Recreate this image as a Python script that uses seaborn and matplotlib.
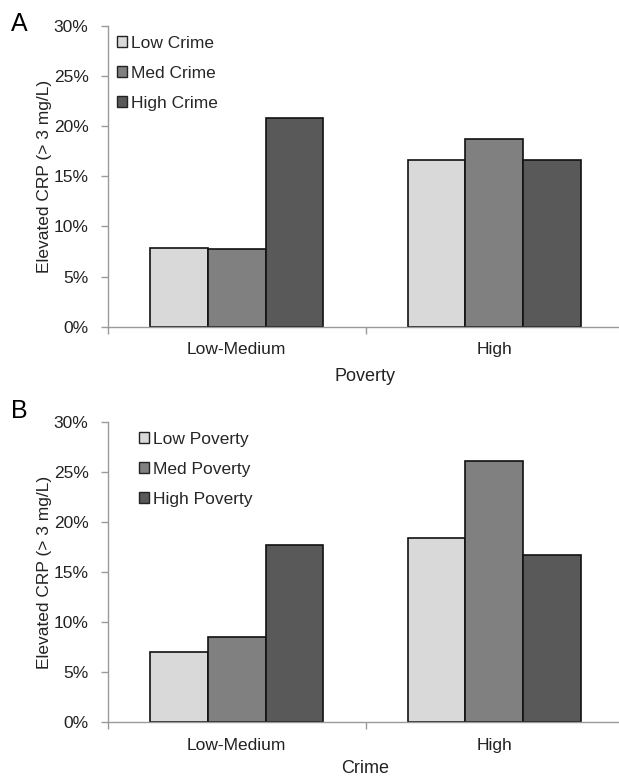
import matplotlib
matplotlib.use("Agg")
import matplotlib.pyplot as plt
import seaborn as sns
import pandas as pd
from matplotlib.ticker import PercentFormatter, FixedLocator

categories = ["Low-Medium", "High"]

crime_levels = ["Low Crime", "Med Crime", "High Crime"]
crp_by_poverty = {
    "Low Crime": [7.9, 16.6],
    "Med Crime": [7.75, 18.7],
    "High Crime": [20.8, 16.6],
}

poverty_levels = ["Low Poverty", "Med Poverty", "High Poverty"]
crp_by_crime = {
    "Low Poverty": [7.05, 18.35],
    "Med Poverty": [8.5, 26.1],
    "High Poverty": [17.7, 16.7],
}

yticks = [0, 5, 10, 15, 20, 25, 30]
colors = ["#d9d9d9", "#808080", "#595959"]

sns.set_theme(style="white")
plt.rcParams["font.family"] = ["Liberation Sans", "DejaVu Sans"]

fig = plt.figure(figsize=(6.19, 7.80), dpi=100)

def make_df(d, levels):
    rows = []
    for lvl in levels:
        for c, v in zip(categories, d[lvl]):
            rows.append({"cat": c, "grp": lvl, "val": v})
    return pd.DataFrame(rows)

def panel(rect, df, levels, xlabel, xlabelpad, letter, letter_y, leg_anchor):
    ax = fig.add_axes(rect)
    sns.barplot(data=df, x="cat", y="val", hue="grp", order=categories,
                hue_order=levels, palette=colors, width=0.67, gap=0,
                edgecolor="#111111", linewidth=1.2, ax=ax, saturation=1)
    ax.set_xlim(-0.5, 1.5)
    ax.set_ylim(0, 30)
    ax.yaxis.set_major_locator(FixedLocator(yticks))
    ax.yaxis.set_major_formatter(PercentFormatter(decimals=0))
    for s in ["top", "right"]:
        ax.spines[s].set_visible(False)
    for s in ["left", "bottom"]:
        ax.spines[s].set_color("#9a9a9a")
        ax.spines[s].set_linewidth(1.0)
    ax.tick_params(axis="y", left=True, length=5, width=1, color="#9a9a9a",
                   pad=9, labelsize=12.5, labelcolor="#222222")
    ax.tick_params(axis="x", which="major", bottom=True, length=0, pad=11,
                   labelsize=12.5, labelcolor="#222222")
    ax.set_xticks([-0.5, 0.5, 1.5], minor=True)
    ax.tick_params(axis="x", which="minor", bottom=True, length=5, width=1,
                   color="#9a9a9a")
    ax.set_xlabel(xlabel, fontsize=13, color="#222222", labelpad=xlabelpad)
    ax.set_ylabel("Elevated CRP (> 3 mg/L)", fontsize=12.5, color="#222222",
                  labelpad=1)
    leg = ax.legend(loc="upper left", bbox_to_anchor=leg_anchor,
                    bbox_transform=fig.transFigure, frameon=False,
                    fontsize=12.5, handlelength=0.6, handleheight=0.6,
                    handletextpad=0.2, labelspacing=0.85, borderpad=0,
                    borderaxespad=0)
    for h in leg.legend_handles:
        h.set_edgecolor("#222222")
        h.set_linewidth(1.0)
    fig.text(11 / 619, letter_y, letter, fontsize=18, color="black",
             va="baseline", ha="left")
    return ax

dfA = make_df(crp_by_poverty, crime_levels)
dfB = make_df(crp_by_crime, poverty_levels)

panel([108 / 619, 1 - 326.7 / 780, 515 / 619, 300.7 / 780], dfA, crime_levels,
      "Poverty", 8, "A", 1 - 31 / 780, (117 / 619, 1 - 36 / 780))
panel([108 / 619, 1 - 722.3 / 780, 515 / 619, 300.6 / 780], dfB, poverty_levels,
      "Crime", 5, "B", 1 - 418 / 780, (139 / 619, 1 - 432 / 780))

fig.savefig("out.png", dpi=100)
